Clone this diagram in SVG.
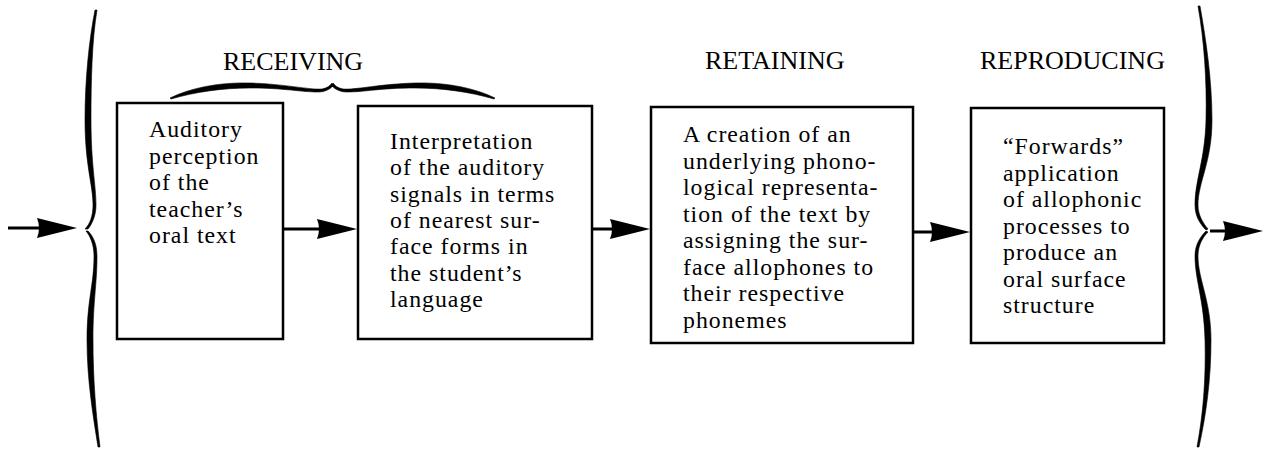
<svg xmlns="http://www.w3.org/2000/svg" width="1265" height="452" viewBox="0 0 1265 452">
<style>
  .box { fill: #fff; stroke: #000; stroke-width: 2.5; }
  .txt { font-family: "Liberation Serif", "Times New Roman", serif; font-size: 23.8px; letter-spacing: 1px; fill: #000; }
  .lbl { font-family: "Liberation Serif", "Times New Roman", serif; font-size: 26px; fill: #000; }
  .conn { stroke: #000; stroke-width: 3; fill: none; }
  .brace { fill: #000; stroke: #000; stroke-width: 0.6; }
</style>
<defs>
  <marker id="ah" markerUnits="userSpaceOnUse" markerWidth="44" markerHeight="24" viewBox="-42 -12 44 24" refX="-15" refY="0" orient="auto">
    <path d="M0,0 L-40,-10 Q-36,0 -40,10 Z" fill="#000"/>
  </marker>
  <path id="hbrace" d="M170,98 C190,88 220,82 250,83 C285,84 310,90 322,89 C327,88 330,86 332,83 L333,86 C329,90 324,92 318,92 C300,92 285,88 250,88 C222,88 195,92 171,99 Z"/>
</defs>

<g id="labels">
  <text class="lbl" x="223" y="70">RECEIVING</text>
  <text class="lbl" x="705" y="69">RETAINING</text>
  <text class="lbl" x="980" y="69">REPRODUCING</text>
</g>

<g id="brace-left">
  <path class="brace" d="M95,10 C89,40 85,80 85,120 C85,165 93,185 93,205 C93,216 90,224 85,229 L88,229 C92,224 96,216 96,205 C96,185 91,165 91,120 C91,80 92,40 97,10 Z"/>
  <path class="brace" d="M86,231 C90,236 94,244 94,256 C94,285 87,300 87,340 C87,380 93,415 98,447 L100,447 C96,415 93,380 93,340 C93,300 97,285 97,256 C97,244 93,236 88,231 Z"/>
</g>

<g id="brace-right">
  <path class="brace" d="M1198,6 C1204,40 1207,80 1206,120 C1205,160 1195,180 1195,205 C1195,216 1200,224 1206,230 L1208,229 C1203,223 1198,215 1198,205 C1198,182 1212,162 1212,120 C1212,80 1206,40 1200,6 Z"/>
  <path class="brace" d="M1206,231 C1200,237 1195,245 1195,256 C1195,280 1204,300 1205,340 C1206,380 1203,415 1197,447 L1199,447 C1206,415 1211,380 1211,340 C1211,300 1198,280 1198,256 C1198,245 1203,237 1208,232 Z"/>
</g>

<g id="brace-receiving">
  <use href="#hbrace" class="brace"/>
  <use href="#hbrace" class="brace" transform="translate(665,0) scale(-1,1)"/>
</g>

<g id="node1">
  <rect class="box" x="117" y="103" width="166" height="236"/>
  <text class="txt">
    <tspan x="149" y="137">Auditory</tspan>
    <tspan x="149" y="163.5">perception</tspan>
    <tspan x="149" y="190">of the</tspan>
    <tspan x="149" y="216.5">teacher’s</tspan>
    <tspan x="149" y="243">oral text</tspan>
  </text>
</g>

<g id="node2">
  <rect class="box" x="358" y="106" width="234" height="233"/>
  <text class="txt">
    <tspan x="390" y="149">Interpretation</tspan>
    <tspan x="390" y="175.3">of the auditory</tspan>
    <tspan x="390" y="201.6">signals in terms</tspan>
    <tspan x="390" y="228">of nearest sur-</tspan>
    <tspan x="390" y="254.3">face forms in</tspan>
    <tspan x="390" y="280.6">the student’s</tspan>
    <tspan x="390" y="307">language</tspan>
  </text>
</g>

<g id="node3">
  <rect class="box" x="651" y="107" width="262" height="236"/>
  <text class="txt">
    <tspan x="683" y="142">A creation of an</tspan>
    <tspan x="683" y="168.6">underlying phono-</tspan>
    <tspan x="683" y="195.1">logical representa-</tspan>
    <tspan x="683" y="221.7">tion of the text by</tspan>
    <tspan x="683" y="248.3">assigning the sur-</tspan>
    <tspan x="683" y="274.9">face allophones to</tspan>
    <tspan x="683" y="301.4">their respective</tspan>
    <tspan x="683" y="328">phonemes</tspan>
  </text>
</g>

<g id="node4">
  <rect class="box" x="971" y="108" width="193" height="235"/>
  <text class="txt">
    <tspan x="1003" y="154">“Forwards”</tspan>
    <tspan x="1003" y="180.5">application</tspan>
    <tspan x="1003" y="207">of allophonic</tspan>
    <tspan x="1003" y="233.5">processes to</tspan>
    <tspan x="1003" y="260">produce an</tspan>
    <tspan x="1003" y="286.5">oral surface</tspan>
    <tspan x="1003" y="313">structure</tspan>
  </text>
</g>

<g id="connectors">
  <line class="conn" x1="8" y1="228" x2="62" y2="228" marker-end="url(#ah)"/>
  <line class="conn" x1="283" y1="229" x2="342" y2="229" marker-end="url(#ah)"/>
  <line class="conn" x1="592" y1="229" x2="635" y2="229" marker-end="url(#ah)"/>
  <line class="conn" x1="913" y1="232" x2="955" y2="232" marker-end="url(#ah)"/>
  <line class="conn" x1="1210" y1="231" x2="1248" y2="231" marker-end="url(#ah)"/>
</g>
</svg>
